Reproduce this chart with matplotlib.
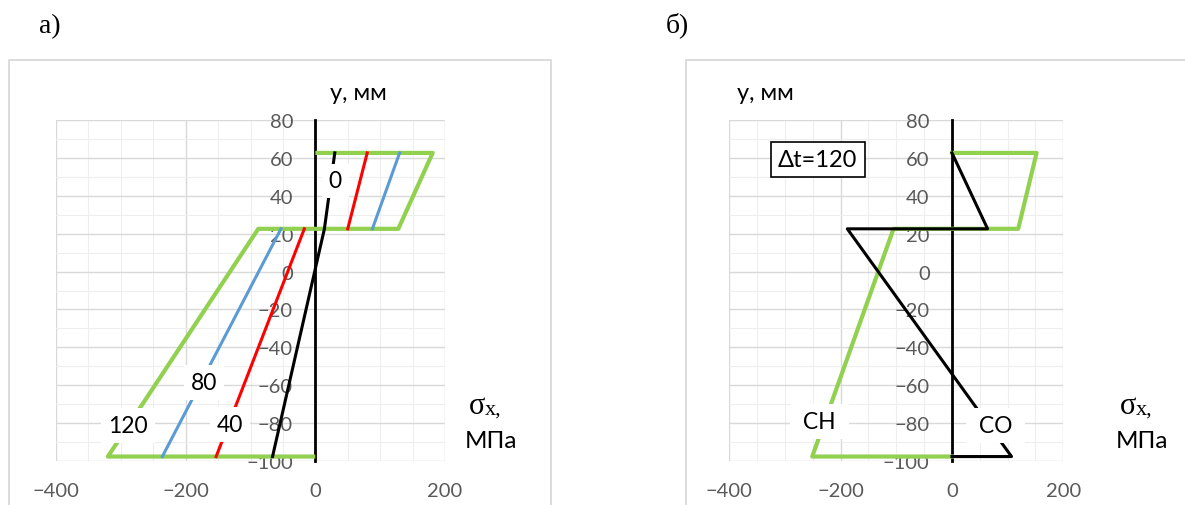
import matplotlib.pyplot as plt
import matplotlib.patches as patches
from matplotlib.ticker import MultipleLocator

plt.rcParams['font.family'] = ['Lato', 'Noto Sans', 'DejaVu Sans']

# layer boundaries, mm
y_top, y_mid, y_bot = 62.5, 22.5, -97.5

# chart a): stresses for dt = 0, 40, 80, 120
a_green_x = [0, 181, 128, -88, -320, 0]
a_green_y = [y_top, y_top, y_mid, y_mid, y_bot, y_bot]
a_blue_low_x = [-236, -53]
a_blue_up_x = [88, 130]
a_red_low_x = [-153, -17]
a_red_up_x = [50, 80]
a_black_x = [-66, 14, 30]
a_black_y = [y_bot, y_mid, y_top]

# chart b): dt = 120, CH and CO
b_green_x = [0, 152, 119, -105, -251, 0]
b_green_y = [y_top, y_top, y_mid, y_mid, y_bot, y_bot]
b_black_x = [0, 64, -188, 107, 0]
b_black_y = [y_top, y_mid, y_mid, y_bot, y_bot]

W, H = 1185, 506
GREEN = '#92D050'
BLUE = '#5B9BD5'
RED = '#FF0000'
GRAY = '#595959'


def fx(px):
    return px / W


def fy(py):
    return 1 - py / H


def setup_axes(ax):
    ax.set_xlim(-400, 200)
    ax.set_ylim(-100, 80)
    ax.xaxis.set_major_locator(MultipleLocator(200))
    ax.xaxis.set_minor_locator(MultipleLocator(50))
    ax.yaxis.set_major_locator(MultipleLocator(20))
    ax.yaxis.set_minor_locator(MultipleLocator(10))
    ax.grid(which='major', color='#d9d9d9', lw=1.0)
    ax.grid(which='minor', color='#eeeeee', lw=0.8)
    ax.set_axisbelow(True)
    for s in ['top', 'right', 'bottom']:
        ax.spines[s].set_visible(False)
    ax.spines['left'].set_position(('data', 0))
    ax.spines['left'].set_color('black')
    ax.spines['left'].set_linewidth(2)
    ax.tick_params(which='both', length=0, labelsize=14.5, colors=GRAY)
    ax.tick_params(axis='y', pad=16)
    ax.tick_params(axis='x', pad=15)


fig = plt.figure(figsize=(W / 100, H / 100), dpi=100)

# chart borders
for x0, x1 in [(9, 551), (686, 1250)]:
    fig.add_artist(patches.Rectangle((fx(x0), -0.1), fx(x1) - fx(x0), fy(61) + 0.1,
                                     transform=fig.transFigure, fill=False,
                                     ec='#d9d9d9', lw=1.3))

label_box = dict(boxstyle='square,pad=0.3', fc='white', ec='none')

# ---- а)
ax1 = fig.add_axes([fx(56), fy(462.3), fx(445) - fx(56), fy(120.7) - fy(462.3)])
setup_axes(ax1)
ax1.plot(a_green_x, a_green_y, color=GREEN, lw=3, zorder=3, solid_capstyle='butt')
ax1.plot(a_blue_low_x, [y_bot, y_mid], color=BLUE, lw=2.2, zorder=3)
ax1.plot(a_blue_up_x, [y_mid, y_top], color=BLUE, lw=2.2, zorder=3)
ax1.plot(a_red_low_x, [y_bot, y_mid], color=RED, lw=2.2, zorder=3)
ax1.plot(a_red_up_x, [y_mid, y_top], color=RED, lw=2.2, zorder=3)
ax1.plot(a_black_x, a_black_y, color='black', lw=2.2, zorder=3)
for txt, x, y in [('0', 31, 47.7), ('80', -172, -58.5), ('120', -289, -81.3), ('40', -131, -80.5)]:
    ax1.text(x, y, txt, fontsize=16.5, ha='center', va='center', bbox=label_box, zorder=5)

# ---- б)
ax2 = fig.add_axes([fx(729.3), fy(462.3), fx(1063.3) - fx(729.3), fy(120.7) - fy(462.3)])
setup_axes(ax2)
ax2.plot(b_green_x, b_green_y, color=GREEN, lw=3, zorder=3)
ax2.plot(b_black_x, b_black_y, color='black', lw=2.2, zorder=3)
for txt, x, y in [(' СН ', -238, -79), (' СО ', 78, -81)]:
    ax2.text(x, y, txt, fontsize=16.5, ha='center', va='center', bbox=label_box, zorder=5)
ax2.text(-241, 59.2, 'Δt=120', fontsize=17, ha='center', va='center', zorder=5,
         bbox=dict(boxstyle='square,pad=0.3', fc='white', ec='black', lw=1.2))

# axis titles and panel letters
for xc, y_name in [(358, 93), (765, 93)]:
    fig.text(fx(xc), fy(y_name), 'y, мм', fontsize=17, ha='center', va='center')
for xc in [491, 1142]:
    fig.text(fx(xc - 6), fy(407), 'σ', fontsize=22, ha='right', va='center', family='Liberation Serif')
    fig.text(fx(xc - 6), fy(410), 'x,', fontsize=16, ha='left', va='center', family='Liberation Serif')
    fig.text(fx(xc), fy(442), 'МПа', fontsize=17.5, ha='center', va='center')
fig.text(fx(50), fy(27), 'а)', fontsize=20, ha='center', va='center', family='Liberation Serif')
fig.text(fx(677), fy(25), 'б)', fontsize=20, ha='center', va='center', family='Liberation Serif')

fig.savefig('out.png', dpi=100)
